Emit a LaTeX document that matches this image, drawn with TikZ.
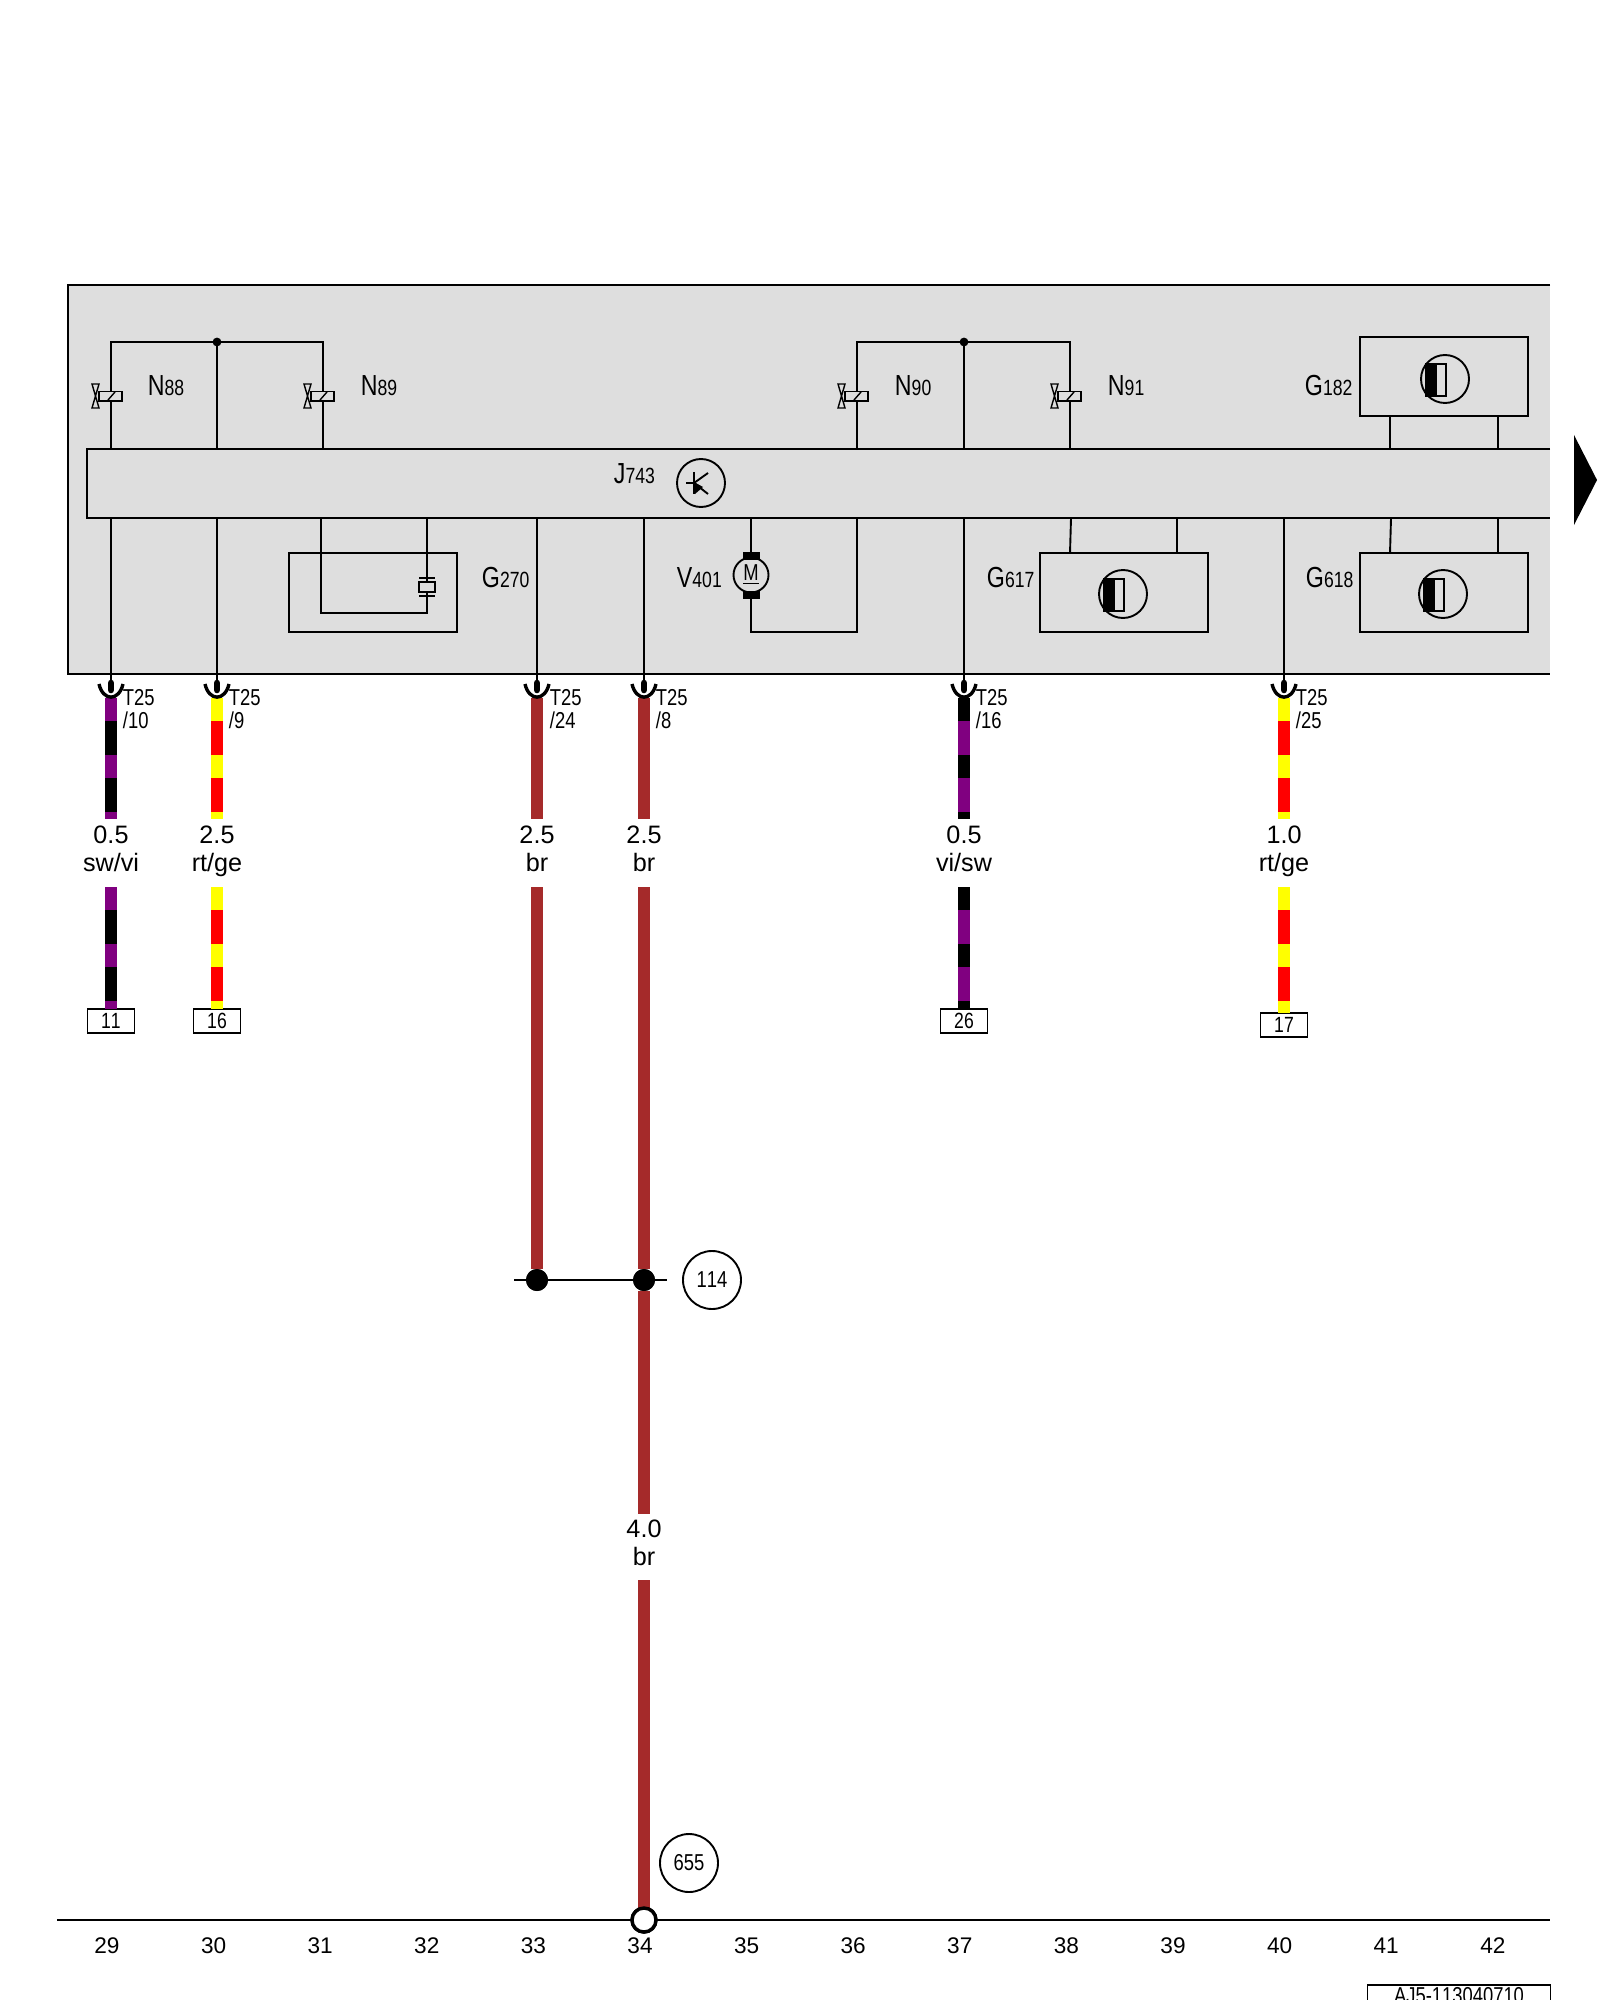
\documentclass[tikz,border=0pt]{standalone}
\usepackage{fontspec}
\setmainfont{Liberation Sans}
\newfontfamily\narrowfont[FakeStretch=0.8,Kerning=Off]{Liberation Sans}
\usetikzlibrary{arrows,positioning}
\definecolor{panelgray}{HTML}{DEDEDE}
\definecolor{wirepurple}{HTML}{800080}
\definecolor{wireyellow}{HTML}{FFFF00}
\definecolor{wirered}{HTML}{FF0000}
\definecolor{wirebrown}{HTML}{A52A2A}
\newcommand{\compname}[2]{{\fontsize{14.5}{14.5}\selectfont #1}{\fontsize{11}{11}\selectfont #2}}

\begin{document}
\begin{tikzpicture}[
    x=0.5pt, y=-0.5pt,
    line width=0.95pt,
    partlabel/.style={anchor=base west, inner sep=0pt, font=\narrowfont},
    panelfill/.style={rectangle, fill=panelgray, inner sep=0pt, outer sep=0pt, anchor=north west},
    sensorbox/.style={rectangle, draw, fill=panelgray, minimum width=84pt, minimum height=39.5pt, inner sep=0pt, outer sep=0pt},
    wire/.style={draw=wirebrown, line width=6pt},
    stripe/.style 2 args={draw=#2, line width=6pt, postaction={draw=#1, dash pattern=on 11.5pt off 17pt}},
    wirelabel/.style={rectangle, inner sep=0pt, outer sep=0pt, minimum height=34pt, align=center, font=\fontsize{12.6}{14.4}\selectfont, execute at end node=\strut},
    pinlabel/.style={anchor=north west, inner sep=0pt, align=left, font=\narrowfont\fontsize{11.5}{11.5}\selectfont},
    termbox/.style={rectangle, draw, fill=white, minimum width=23.5pt, minimum height=12pt, inner sep=0pt, outer sep=0pt, font=\narrowfont\fontsize{11}{11}\selectfont},
    refcircle/.style={circle, draw, fill=white, minimum size=29pt, inner sep=0pt, outer sep=0pt, font=\narrowfont\fontsize{11.5}{11.5}\selectfont},
    tick/.style={inner sep=0pt, font=\fontsize{11.3}{11.3}\selectfont, node distance=53.3pt},
    valve/.pic={
        \draw[fill=panelgray, line width=0.7pt] (-12,-4.5) rectangle (11,5);
        \draw[line width=0.7pt] (-3,4) -- (4,-4);
        \draw[fill=panelgray, line width=0.7pt] (-19,-12) -- (-12,-12) -- (-19,12) -- (-12,12) -- cycle;
    },
    hallsym/.pic={
        \fill (-19,-15) rectangle (-8,17);
        \draw[line width=0.7pt] (-19,-15) rectangle (1,17);
        \draw (0,0) circle (12pt);
    },
    transsym/.pic={
        \draw (-15,0) -- (-7,0);
        \draw (-7,-11) -- (-7,11);
        \draw (-7,0) -- (7,-10);
        \draw (-7,0) -- (7,11);
        \fill (-7,-1) -- (2,4) -- (-6,11) -- cycle;
    },
    cupjoint/.pic={
        \draw[line width=3.3pt, line cap=round] (0,-2) -- (0,5);
        \draw[line width=1.7pt] (-12,-1) .. controls (-8,16.5) and (8,16.5) .. (12,-1);
    }
]
\useasboundingbox (0,0) rectangle (1600,2000);

% Panel and control unit
\node [panelfill, minimum width=741pt, minimum height=194.5pt] (panel) at (68,285) {};
\draw (panel.north east) -- (panel.north west) -- (panel.south west) -- (panel.south east);
\node [panelfill, minimum width=731.5pt, minimum height=34.5pt] (ctrl) at (87,449) {};
\draw (ctrl.north east) -- (ctrl.north west) -- (ctrl.south west) -- (ctrl.south east);
\fill (1574,435) -- (1597,480) -- (1574,525) -- cycle;

% Solenoid valves
\coordinate (n88) at (111,396);
\coordinate (n89) at (323,396);
\coordinate (n90) at (857,396);
\coordinate (n91) at (1070,396);
\coordinate (railA) at (217,342);
\coordinate (railB) at (964,342);
\draw (n88 |- ctrl.north) |- (railA) -| (n89 |- ctrl.north);
\draw (n90 |- ctrl.north) |- (railB) -| (n91 |- ctrl.north);
\draw (railA) -- (railA |- ctrl.north);
\draw (railB) -- (railB |- ctrl.north);
\fill (railA) circle (2.2pt);
\fill (railB) circle (2.2pt);
\pic at (n88) {valve};
\pic at (n89) {valve};
\pic at (n90) {valve};
\pic at (n91) {valve};
\node [partlabel] (lblN88) at (147,396) {\compname{N}{88}};
\node [partlabel] (lblN89) at (360,396) {\compname{N}{89}};
\node [partlabel] (lblN90) at (894,396) {\compname{N}{90}};
\node [partlabel] (lblN91) at (1107,396) {\compname{N}{91}};

% Transistor sign
\node [partlabel] (lblJ) at (613,483) {\compname{J}{743}};
\node [circle, draw, minimum size=24pt, inner sep=0pt] (jsym) at (701,483) {};
\pic at (jsym) {transsym};

% Sensors
\node [sensorbox] (g182) at (1444,376.5) {};
\node [sensorbox] (g270) at (373,592.5) {};
\node [sensorbox] (g617) at (1124,592.5) {};
\node [sensorbox] (g618) at (1444,592.5) {};
\pic at (1445,379) {hallsym};
\pic at (1123,594) {hallsym};
\pic at (1443,594) {hallsym};
\coordinate (g182a) at (1390,416);
\coordinate (g182b) at (1498,416);
\coordinate (g617a) at (1070,553);
\coordinate (g617b) at (1177,553);
\coordinate (g618a) at (1390,553);
\coordinate (g618b) at (1498,553);
\draw (g182a) -- (g182a |- ctrl.north);
\draw (g182b) -- (g182b |- ctrl.north);
\draw (g617a) -- ([xshift=0.5pt]g617a |- ctrl.south);
\draw (g617b) -- (g617b |- ctrl.south);
\draw (g618a) -- ([xshift=0.5pt]g618a |- ctrl.south);
\draw (g618b) -- (g618b |- ctrl.south);
\node [partlabel] (lblG182) at (1304,396) {\compname{G}{182}};
\node [partlabel] (lblG270) at (481,587) {\compname{G}{270}};
\node [partlabel] (lblG617) at (986,587) {\compname{G}{617}};
\node [partlabel] (lblG618) at (1305,587) {\compname{G}{618}};

% Crystal in G270
\coordinate (xtalturn) at (321,613);
\node [rectangle, draw, fill=panelgray, minimum width=8pt, minimum height=5pt, inner sep=0pt, outer sep=0pt, line width=0.7pt] (xtal) at (427,587) {};
\draw (xtal.south) |- (xtalturn) -- (xtalturn |- ctrl.south);
\draw (xtal.north) -- (xtal |- ctrl.south);
\draw[line width=0.7pt] ([yshift=2pt]xtal.north west) -- ([yshift=2pt]xtal.north east);
\draw[line width=0.7pt] ([yshift=-2pt]xtal.south west) -- ([yshift=-2pt]xtal.south east);

% Motor
\coordinate (motorturn) at (857,632);
\node [circle, draw, fill=panelgray, minimum size=17.5pt, inner sep=0pt, outer sep=0pt, font=\narrowfont\fontsize{11.5}{11.5}\selectfont] (motor) at (751,575) {\underline{M}};
\node [rectangle, fill=black, minimum width=8.5pt, minimum height=4pt, inner sep=0pt, outer sep=0pt] (brushA) at (751,556) {};
\node [rectangle, fill=black, minimum width=8.5pt, minimum height=4pt, inner sep=0pt, outer sep=0pt] (brushB) at (751,595) {};
\draw (brushA) -- (brushA |- ctrl.south);
\draw (brushB) |- (motorturn) -- (motorturn |- ctrl.south);
\node [partlabel] (lblV) at (676,587) {\compname{V}{401}};

% Connector pins below the panel
\coordinate (pinA) at (111,685);
\coordinate (pinB) at (217,685);
\coordinate (pinC) at (537,685);
\coordinate (pinD) at (644,685);
\coordinate (pinE) at (964,685);
\coordinate (pinF) at (1284,685);
\draw (pinA) -- (pinA |- ctrl.south);
\draw (pinB) -- (pinB |- ctrl.south);
\draw (pinC) -- (pinC |- ctrl.south);
\draw (pinD) -- (pinD |- ctrl.south);
\draw (pinE) -- (pinE |- ctrl.south);
\draw (pinF) -- (pinF |- ctrl.south);

% Wire labels below pins
\node [wirelabel, below of=pinA, node distance=84pt] (lblA) {0.5\\sw/vi};
\node [wirelabel, below of=pinB, node distance=84pt] (lblB) {2.5\\rt/ge};
\node [wirelabel, below of=pinC, node distance=84pt] (lblC) {2.5\\br};
\node [wirelabel, below of=pinD, node distance=84pt] (lblD) {2.5\\br};
\node [wirelabel, below of=pinE, node distance=84pt] (lblE) {0.5\\vi/sw};
\node [wirelabel, below of=pinF, node distance=84pt] (lblF) {1.0\\rt/ge};

% Terminal boxes
\node [termbox, below of=lblA, node distance=84pt] (termA) {11};
\node [termbox, below of=lblB, node distance=84pt] (termB) {16};
\node [termbox, below of=lblE, node distance=84pt] (termE) {26};
\node [termbox, below of=lblF, node distance=86pt] (termF) {17};

% Ground and junction
\node [refcircle] (ref114) at (712,1280) {114};
\node [refcircle] (ref655) at (689,1863) {655};
\node [circle, draw, fill=white, minimum size=12pt, inner sep=0pt, outer sep=0pt, line width=1.7pt] (gnd) at (644,1920) {};
\node [circle, fill=black, minimum size=11pt, inner sep=0pt, outer sep=0pt] (dotC) at (537,1280) {};
\node [circle, fill=black, minimum size=11pt, inner sep=0pt, outer sep=0pt] (dotD) at (644,1280) {};
\node [wirelabel, minimum height=33pt] (lblG) at (644,1547) {4.0\\br};
\coordinate (splitL) at (514,1280);
\coordinate (splitR) at (667,1280);
\coordinate (baseL) at (57,1920);
\coordinate (baseR) at (1550,1920);

% Draw wires
\draw [stripe={wirepurple}{black}] ([yshift=-6.5pt]pinA) -- (lblA.north);
\draw [stripe={wirepurple}{black}] (lblA.south) -- (termA.north);
\draw [stripe={wireyellow}{wirered}] ([yshift=-6.5pt]pinB) -- (lblB.north);
\draw [stripe={wireyellow}{wirered}] (lblB.south) -- (termB.north);
\draw [wire] ([yshift=-6.5pt]pinC) -- (lblC.north);
\draw [wire] (lblC.south) -- (dotC);
\draw [wire] ([yshift=-6.5pt]pinD) -- (lblD.north);
\draw [wire] (lblD.south) -- (dotD);
\draw [wire] (dotD) -- (lblG.north);
\draw [wire] (lblG.south) -- (gnd);
\draw [stripe={black}{wirepurple}] ([yshift=-6.5pt]pinE) -- (lblE.north);
\draw [stripe={black}{wirepurple}] (lblE.south) -- (termE.north);
\draw [stripe={wireyellow}{wirered}] ([yshift=-6.5pt]pinF) -- (lblF.north);
\draw [stripe={wireyellow}{wirered}] (lblF.south) -- (termF.north);

\pic at (pinA) {cupjoint};
\pic at (pinB) {cupjoint};
\pic at (pinC) {cupjoint};
\pic at (pinD) {cupjoint};
\pic at (pinE) {cupjoint};
\pic at (pinF) {cupjoint};

\node [pinlabel] (t25A) at (122,688) {T25\\/10};
\node [pinlabel] (t25B) at (228,688) {T25\\/9};
\node [pinlabel] (t25C) at (549,688) {T25\\/24};
\node [pinlabel] (t25D) at (655,688) {T25\\/8};
\node [pinlabel] (t25E) at (975,688) {T25\\/16};
\node [pinlabel] (t25F) at (1295,688) {T25\\/25};

% Redraw junction parts on top
\draw [line width=1.3pt] (splitL) -- (dotC) -- (dotD) -- (splitR);
\node [circle, fill=black, minimum size=11pt, inner sep=0pt] (dotCtop) at (dotC) {};
\node [circle, fill=black, minimum size=11pt, inner sep=0pt] (dotDtop) at (dotD) {};
\draw (baseL) -- (gnd) -- (baseR);
\node [circle, draw, fill=white, minimum size=12pt, inner sep=0pt, line width=1.7pt] (gndtop) at (gnd) {};

% Ticks along the base line
\node [tick] (t29) at (107,1946) {29};
\node [tick, right of=t29] (t30) {30};
\node [tick, right of=t30] (t31) {31};
\node [tick, right of=t31] (t32) {32};
\node [tick, right of=t32] (t33) {33};
\node [tick, right of=t33] (t34) {34};
\node [tick, right of=t34] (t35) {35};
\node [tick, right of=t35] (t36) {36};
\node [tick, right of=t36] (t37) {37};
\node [tick, right of=t37] (t38) {38};
\node [tick, right of=t38] (t39) {39};
\node [tick, right of=t39] (t40) {40};
\node [tick, right of=t40] (t41) {41};
\node [tick, right of=t41] (t42) {42};

% Drawing number, cut by the page edge
\node [rectangle, draw, minimum width=91.5pt, minimum height=11pt, inner sep=0pt, anchor=north, font=\narrowfont\fontsize{11.5}{11.5}\selectfont] (docnum) at (1459,1984) {AJ5-113040710};
\end{tikzpicture}
\end{document}
